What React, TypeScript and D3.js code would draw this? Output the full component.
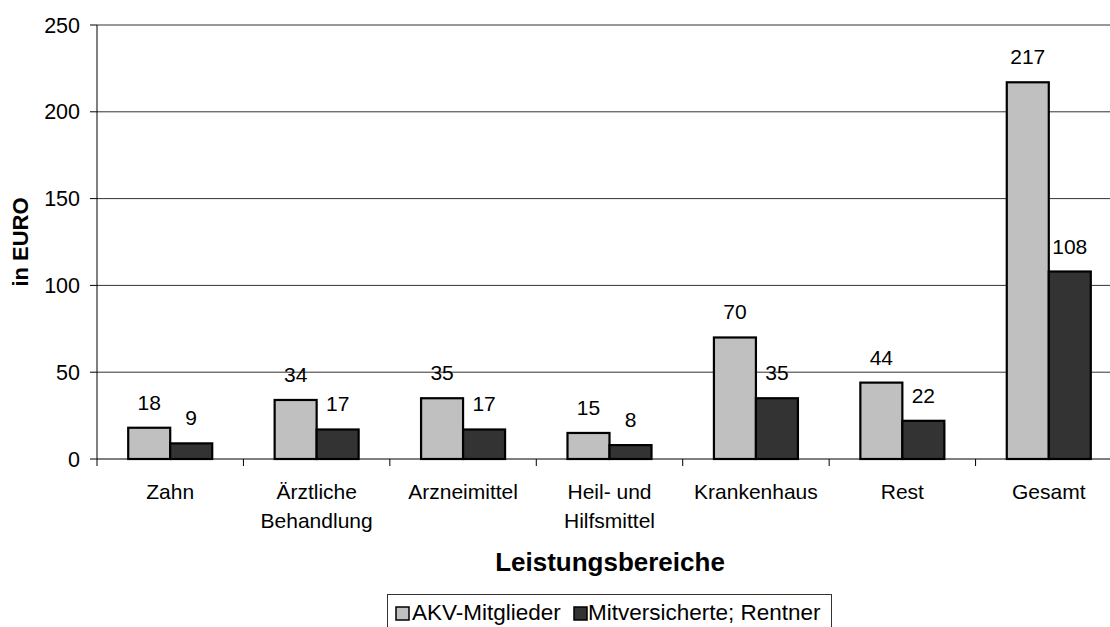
import * as d3 from 'd3';

const categories = ['Zahn', 'Ärztliche Behandlung', 'Arzneimittel', 'Heil- und Hilfsmittel', 'Krankenhaus', 'Rest', 'Gesamt'];
const categoryLines = [['Zahn'], ['Ärztliche', 'Behandlung'], ['Arzneimittel'], ['Heil- und', 'Hilfsmittel'], ['Krankenhaus'], ['Rest'], ['Gesamt']];
const seriesNames = ['AKV-Mitglieder', 'Mitversicherte; Rentner'];
const akvValues = [18, 34, 35, 15, 70, 44, 217];
const mitValues = [9, 17, 17, 8, 35, 22, 108];
const yTicks = [0, 50, 100, 150, 200, 250];

const FILLS = ['#c0c0c0', '#333333'];
const FONT = "'Liberation Sans', Arial, sans-serif";
const W = 1110, H = 627;
const m = { left: 97, top: 25, right: 1122, bottom: 459 };

export default function App() {
  const x = d3.scaleBand().domain(categories).range([m.left, m.right]).padding(0);
  const xs = d3.scaleBand().domain(seriesNames).range([0, x.bandwidth()]).paddingInner(0).paddingOuter(0.743);
  const y = d3.scaleLinear().domain([0, 250]).range([m.bottom, m.top]);
  const series = [akvValues, mitValues];

  return (
    <svg width={W} height={H} style={{ position: 'absolute', left: 0, top: 0, background: '#fff' }} fontFamily={FONT}>
      {/* grid */}
      {yTicks.filter(t => t > 0).map(t => (
        <line key={t} x1={m.left} x2={W} y1={y(t)} y2={y(t)} stroke="#333" strokeWidth={1} />
      ))}
      {/* y axis */}
      <line x1={m.left} x2={m.left} y1={m.top} y2={m.bottom} stroke="#000" />
      {yTicks.map(t => (
        <g key={t}>
          <line x1={m.left - 7} x2={m.left} y1={y(t)} y2={y(t)} stroke="#000" />
          <text x={80} y={y(t)} dy="0.35em" textAnchor="end" fontSize={21.5} fill="#000">{t}</text>
        </g>
      ))}
      {/* bars */}
      {categories.map((c, i) => (
        <g key={c} transform={`translate(${x(c)},0)`}>
          {seriesNames.map((s, j) => {
            const v = series[j][i];
            const bx = xs(s)!;
            return (
              <g key={s}>
                <rect x={bx} y={y(v)} width={xs.bandwidth()} height={y(0) - y(v)}
                  fill={FILLS[j]} stroke="#000" strokeWidth={2.2} />
                <text x={bx + xs.bandwidth() / 2} y={y(v) - 18} textAnchor="middle" fontSize={21} fill="#000">{v}</text>
              </g>
            );
          })}
        </g>
      ))}
      {/* x axis */}
      <line x1={m.left} x2={W} y1={m.bottom} y2={m.bottom} stroke="#000" />
      {categories.map((c, i) => (
        <g key={c}>
          <line x1={x(c)!} x2={x(c)!} y1={m.bottom} y2={m.bottom + 7} stroke="#000" />
          {categoryLines[i].map((ln, k) => (
            <text key={k} x={x(c)! + x.bandwidth() / 2} y={499 + k * 29} textAnchor="middle" fontSize={21} fill="#000">{ln}</text>
          ))}
        </g>
      ))}
      {/* axis titles */}
      <text transform="translate(28,242) rotate(-90)" textAnchor="middle" fontSize={22} fontWeight="bold" fill="#000">in EURO</text>
      <text x={610} y={571} textAnchor="middle" fontSize={26} fontWeight="bold" fill="#000">Leistungsbereiche</text>
      {/* legend */}
      <rect x={387.5} y={594.5} width={444} height={45} fill="#fff" stroke="#333" />
      <rect x={396} y={607} width={13} height={13} fill={FILLS[0]} stroke="#000" strokeWidth={1.5} />
      <text x={412} y={620} fontSize={22.5} fill="#000">{seriesNames[0]}</text>
      <rect x={574} y={607} width={13} height={13} fill={FILLS[1]} stroke="#000" strokeWidth={1.5} />
      <text x={588} y={620} fontSize={22.5} fill="#000">{seriesNames[1]}</text>
    </svg>
  );
}
